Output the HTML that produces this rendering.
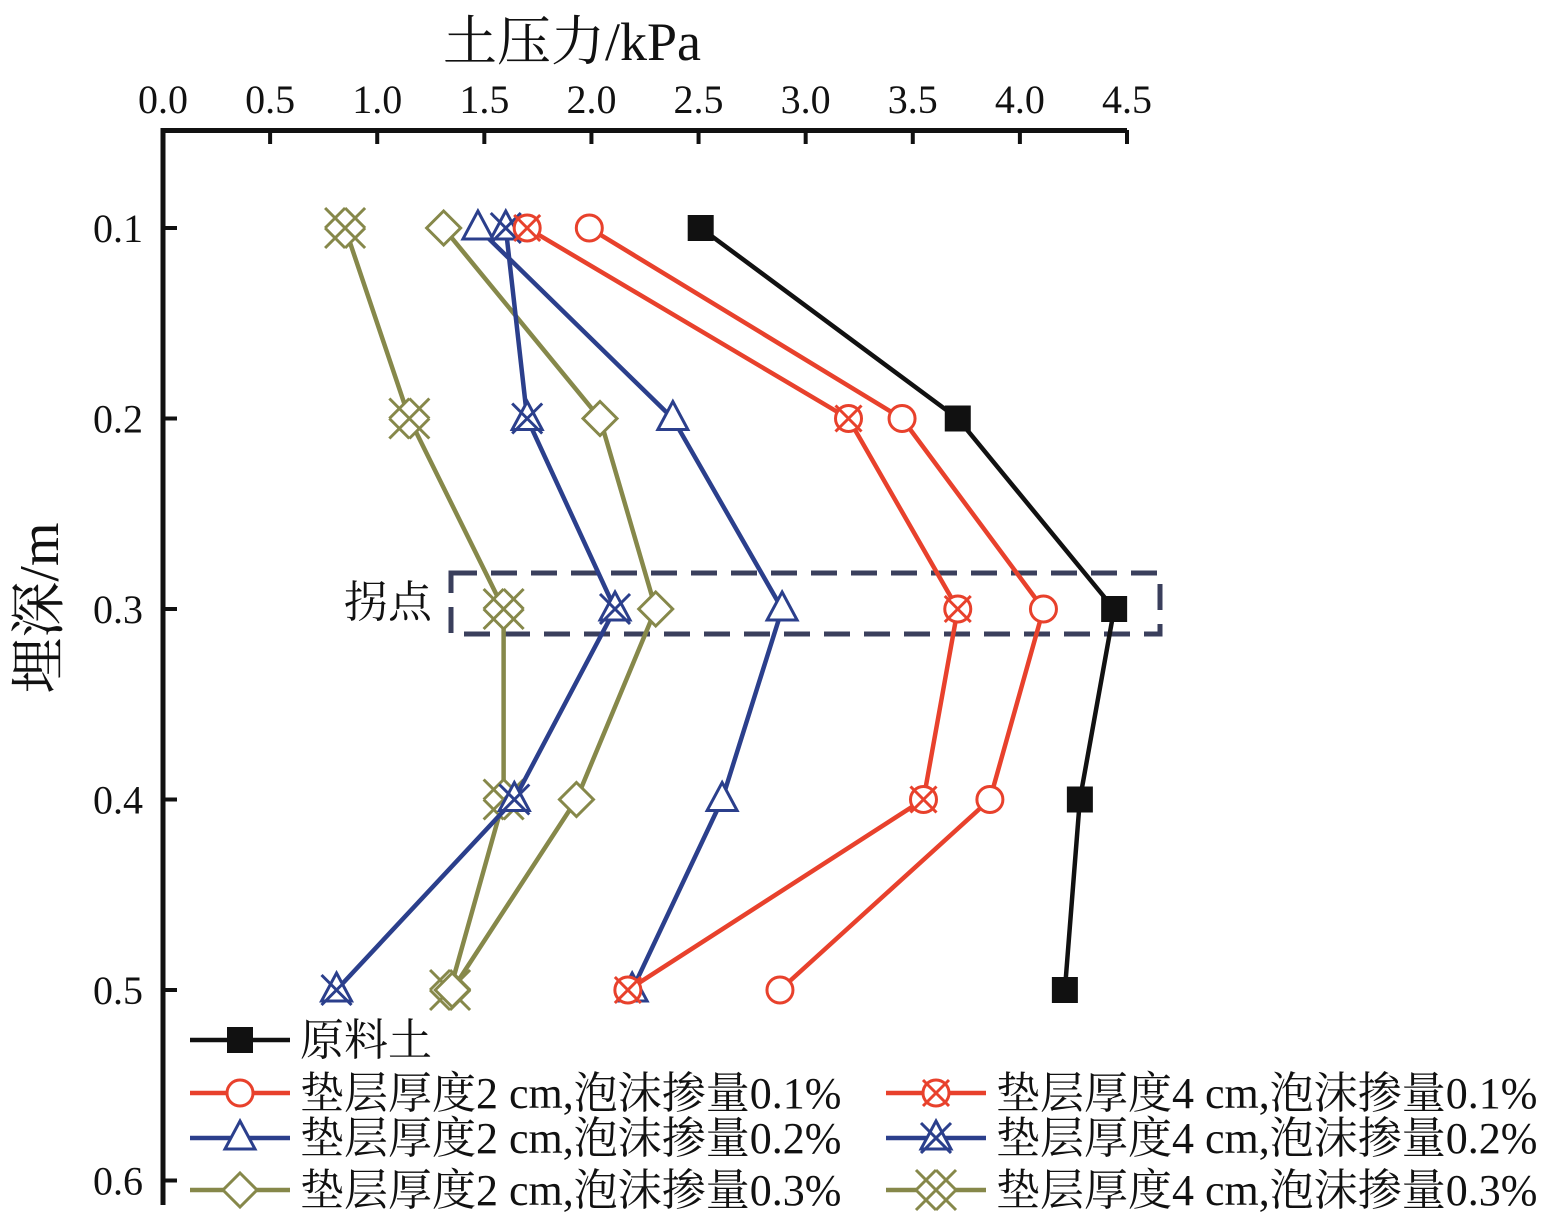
<!DOCTYPE html>
<html><head><meta charset="utf-8"><style>
html,body{margin:0;padding:0;background:#fff;}
svg{display:block;font-family:"Liberation Serif","Noto Serif CJK SC","Noto Sans CJK SC",serif;}
</style></head><body>
<svg id="chart" width="1560" height="1228" viewBox="0 0 1560 1228" xmlns="http://www.w3.org/2000/svg">
<g id="axes"></g>
<g id="plot"></g>
<g id="legend"></g>
</svg>
<script>
const depths = [0.1, 0.2, 0.3, 0.4, 0.5];
const xTicks = [0.0, 0.5, 1.0, 1.5, 2.0, 2.5, 3.0, 3.5, 4.0, 4.5];
const yTicks = [0.1, 0.2, 0.3, 0.4, 0.5, 0.6];
const rawSoil = [2.51, 3.71, 4.44, 4.28, 4.21];
const t2f01 = [1.99, 3.45, 4.11, 3.86, 2.88];
const t4f01 = [1.70, 3.20, 3.71, 3.55, 2.17];
const t2f02 = [1.47, 2.38, 2.89, 2.61, 2.19];
const t4f02 = [1.60, 1.70, 2.11, 1.64, 0.81];
const t2f03 = [1.31, 2.04, 2.30, 1.93, 1.35];
const t4f03 = [0.85, 1.15, 1.59, 1.59, 1.34];
const seriesNames = ["原料土","垫层厚度2 cm,泡沫掺量0.1%","垫层厚度4 cm,泡沫掺量0.1%","垫层厚度2 cm,泡沫掺量0.2%","垫层厚度4 cm,泡沫掺量0.2%","垫层厚度2 cm,泡沫掺量0.3%","垫层厚度4 cm,泡沫掺量0.3%"];

const NS="http://www.w3.org/2000/svg";
const X0=163, XS=(1127-163)/4.5;
const Y1=228, YS=190.5/0.1;
const xs=v=>X0+v*XS;
const ys=d=>Y1+(d-0.1)*YS;
function mk(tag,attrs,parent){const e=document.createElementNS(NS,tag);for(const k in attrs)e.setAttribute(k,attrs[k]);parent.appendChild(e);return e;}
const axes=document.getElementById('axes'),plot=document.getElementById('plot'),legend=document.getElementById('legend');
const CJK='"Liberation Serif","Noto Serif CJK SC",serif';

let a=mk('path',{d:`M${X0},1205 L${X0},130.5 L1127,130.5`,fill:'none',stroke:'#111','stroke-width':5},axes);


xTicks.forEach(v=>{
  const t=mk('line',{x1:xs(v),x2:xs(v),y1:130,y2:144,stroke:'#111','stroke-width':4},axes);
  
  
  const l=mk('text',{x:xs(v),y:113,'text-anchor':'middle','font-size':40,fill:'#111'},axes);
  l.textContent=v.toFixed(1);
  
  
});
yTicks.forEach(v=>{
  const t=mk('line',{x1:X0,x2:X0+14,y1:ys(v),y2:ys(v),stroke:'#111','stroke-width':4},axes);
  
  
  const l=mk('text',{x:143,y:ys(v)+14,'text-anchor':'end','font-size':40,fill:'#111'},axes);
  l.textContent=v.toFixed(1);
  
  
});
let xt=mk('text',{x:572,y:60,'text-anchor':'middle','font-size':54,fill:'#111','font-family':CJK},axes);
xt.textContent='土压力/kPa';


let yt=mk('text',{x:0,y:0,'text-anchor':'middle','font-size':56,fill:'#111','font-family':CJK,transform:'translate(58,608) rotate(-90)'},axes);
yt.textContent='埋深/m';



let r=mk('rect',{x:451,y:573,width:709,height:61,fill:'none',stroke:'#3a3f5c','stroke-width':5,'stroke-dasharray':'26,14'},plot);


let an=mk('text',{x:388,y:617,'text-anchor':'middle','font-size':44,fill:'#111','font-family':CJK},plot);
an.textContent='拐点';



function marker(type,cx,cy,color,g){
  const sw=3;
  if(type==='square'){mk('rect',{x:cx-13,y:cy-13,width:26,height:26,fill:'#111'},g);}
  else if(type==='circle'||type==='circlex'){
    mk('circle',{cx,cy,r:13,fill:'#fff',stroke:color,'stroke-width':sw},g);
    if(type==='circlex'){mk('path',{d:`M${cx-13},${cy-13}L${cx+13},${cy+13}M${cx+13},${cy-13}L${cx-13},${cy+13}`,stroke:color,'stroke-width':sw},g);}
  } else if(type==='tri'||type==='trix'){
    mk('path',{d:`M${cx},${cy-17}L${cx+15},${cy+11}L${cx-15},${cy+11}Z`,fill:'#fff',stroke:color,'stroke-width':sw},g);
    if(type==='trix'){mk('path',{d:`M${cx-15},${cy-15}L${cx+15},${cy+15}M${cx+15},${cy-15}L${cx-15},${cy+15}`,stroke:color,'stroke-width':sw},g);}
  } else if(type==='diamond'){
    mk('path',{d:`M${cx},${cy-17}L${cx+17},${cy}L${cx},${cy+17}L${cx-17},${cy}Z`,fill:'#fff',stroke:color,'stroke-width':sw},g);
  } else if(type==='diamondx'){
    mk('path',{d:`M${cx},${cy-20}L${cx+20},${cy}L${cx},${cy+20}L${cx-20},${cy}Z`,fill:'#fff',stroke:'none'},g);
    mk('path',{d:`M${cx-20},${cy-20}L${cx+20},${cy+20}M${cx+20},${cy-20}L${cx-20},${cy+20}`,stroke:color,'stroke-width':sw},g);
    mk('path',{d:`M${cx},${cy-20}L${cx+10},${cy-10}M${cx},${cy-20}L${cx-10},${cy-10}M${cx},${cy+20}L${cx+10},${cy+10}M${cx},${cy+20}L${cx-10},${cy+10}M${cx-20},${cy}L${cx-10},${cy-10}M${cx-20},${cy}L${cx-10},${cy+10}M${cx+20},${cy}L${cx+10},${cy-10}M${cx+20},${cy}L${cx+10},${cy+10}`,stroke:color,'stroke-width':sw},g);
  }
}
const seriesData=[rawSoil,t2f01,t4f01,t2f02,t4f02,t2f03,t4f03];
const colors=['#111','#e8412c','#e8412c','#2b3f8c','#2b3f8c','#86884a','#86884a'];
const mtypes=['square','circle','circlex','tri','trix','diamond','diamondx'];
const slugs=['raw-soil','2cm-0.1','4cm-0.1','2cm-0.2','4cm-0.2','2cm-0.3','4cm-0.3'];
const order=[6,5,4,3,2,1,0];
order.forEach(i=>{
  const g=mk('g',{},plot);
  
  
  const d=seriesData[i].map((v,k)=>(k?'L':'M')+xs(v)+','+ys(depths[k])).join('');
  mk('path',{d,fill:'none',stroke:colors[i],'stroke-width':4.5,'stroke-linejoin':'round'},g);
  seriesData[i].forEach((v,k)=>{
    const mg=mk('g',{},g);
    
    
    marker(mtypes[i],xs(v),ys(depths[k]),colors[i],mg);
  });
});

const lpos=[[190,1040],[190,1093],[886,1093],[190,1138],[886,1138],[190,1190],[886,1190]];
seriesNames.forEach((n,i)=>{
  const [lx,ly]=lpos[i];
  const g=mk('g',{},legend);
  
  
  mk('line',{x1:lx,x2:lx+100,y1:ly,y2:ly,stroke:colors[i],'stroke-width':4.5},g);
  marker(mtypes[i],lx+50,ly,colors[i],g);
  const t=mk('text',{x:lx+110,y:ly+15,'font-size':44,fill:'#111','font-family':CJK},g);
  t.textContent=n;
});
</script>
</body></html>
